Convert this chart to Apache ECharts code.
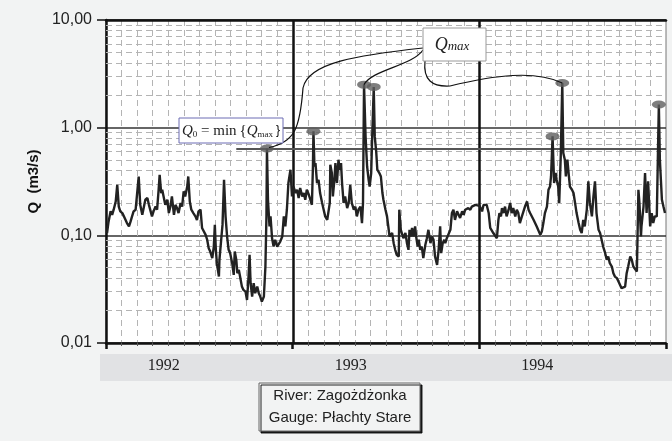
<!DOCTYPE html>
<html><head><meta charset="utf-8">
<script src="https://cdn.jsdelivr.net/npm/echarts@6/dist/echarts.min.js"></script>
<style>html,body{margin:0;padding:0;background:#f2f3f3}#c{width:672px;height:441px}</style>
</head><body><div id="c"></div>
<script>
// ---- data (day index from 1992-01-01, discharge Q in m3/s) ----
const flow1992 = [[2,0.105],[5,0.134],[9,0.167],[12,0.155],[15,0.173],[19,0.206],[22,0.295],[25,0.185],[28,0.167],[32,0.161],[35,0.150],[38,0.145],[41,0.130],[45,0.121],[48,0.134],[51,0.150],[54,0.167],[58,0.173],[61,0.179],[64,0.352],[67,0.192],[71,0.155],[74,0.150],[77,0.214],[81,0.222],[84,0.192],[87,0.200],[90,0.150],[93,0.167],[97,0.185],[100,0.173],[103,0.265],[105,0.365],[108,0.247],[110,0.265],[113,0.256],[116,0.192],[120,0.214],[123,0.161],[126,0.185],[129,0.230],[133,0.155],[136,0.192],[139,0.179],[142,0.161],[146,0.200],[149,0.185],[152,0.256],[155,0.230],[159,0.284],[161,0.352],[164,0.206],[167,0.173],[171,0.161],[175,0.150],[178,0.139],
[181,0.167],[185,0.173],[188,0.117],[191,0.121],[195,0.101],[198,0.091],[201,0.076],[204,0.0707],[208,0.0614],[211,0.0787],[213,0.125],[215,0.0733],[217,0.0551],[221,0.0414],[222,0.0592],[226,0.0975],[228,0.125],[231,0.328],[234,0.150],[237,0.0975],[240,0.0733],[243,0.0683],[247,0.0551],[250,0.0429],[252,0.0707],[255,0.0592],[257,0.0445],[260,0.0478],[263,0.040],[266,0.0334],[269,0.0311],[273,0.030],[276,0.0251],[279,0.0414],[281,0.0659],[283,0.0359],[286,0.027],[289,0.0359],[292,0.029],[296,0.0334],[299,0.029],[302,0.027],[305,0.0242],[309,0.027],[312,0.0513],[314,0.150],[315,0.64],[317,0.214],[320,0.121],[322,0.150],[325,0.094],[328,0.0787],[331,0.091],[335,0.0787],[338,0.076],[341,0.0876],[345,0.0975],[348,0.150],[351,0.121],[354,0.173],[357,0.306],[361,0.407]];
const flow1993 = [[364,0.230],[367,0.284],[371,0.247],[374,0.265],[377,0.222],[380,0.275],[384,0.230],[387,0.247],[390,0.214],[393,0.265],[397,0.238],[400,0.214],[403,0.192],[405,0.436],[406,0.924],[408,0.436],[410,0.469],[413,0.306],[416,0.328],[419,0.247],[423,0.200],[426,0.173],[429,0.150],[433,0.139],[436,0.139],[438,0.200],[439,0.453],[442,0.379],[444,0.230],[447,0.328],[449,0.469],[452,0.306],[455,0.504],[457,0.407],[460,0.469],[462,0.306],[465,0.200],[468,0.230],[472,0.179],[475,0.200],[478,0.295],[481,0.200],[485,0.173],[488,0.185],[491,0.150],[494,0.173],[498,0.185],[501,0.130],[503,0.200],[505,2.51],[508,0.830],[511,0.436],[514,0.328],[516,0.284],[519,0.379],[521,0.830],[524,2.39],[526,0.830],[529,0.582],[531,0.407],[535,0.379],[538,0.352],[541,0.247],[543,0.214],[547,0.173],[550,0.150],[555,0.0975],
[560,0.105],[563,0.0846],[566,0.0733],[569,0.0659],[573,0.0635],[574,0.173],[577,0.1125],[580,0.1085],[582,0.094],[586,0.105],[589,0.0846],[592,0.0733],[594,0.1125],[597,0.0975],[599,0.117],[602,0.0975],[605,0.121],[607,0.0975],[610,0.0787],[612,0.091],[615,0.0733],[618,0.0787],[621,0.0614],[625,0.0816],[628,0.094],[631,0.1125],[635,0.0846],[638,0.0975],[641,0.091],[644,0.0635],[648,0.0532],[651,0.0733],[654,0.121],[656,0.0683],[659,0.0846],[662,0.091],[664,0.0846],[667,0.094],[670,0.0975],[674,0.1125],[677,0.161],[680,0.173],[683,0.139],[687,0.167],[690,0.161],[693,0.145],[697,0.167],[700,0.155],[703,0.173],[706,0.167],[709,0.179],[713,0.173],[716,0.185],[719,0.179],[723,0.192],[726,0.185],[731,0.188]];
const flow1994 = [[736,0.167],[739,0.192],[742,0.185],[745,0.192],[749,0.161],[752,0.117],[758,0.105],[765,0.094],[768,0.139],[770,0.161],[773,0.150],[775,0.179],[778,0.161],[781,0.185],[784,0.150],[788,0.173],[791,0.200],[794,0.161],[797,0.179],[801,0.150],[804,0.173],[807,0.161],[810,0.130],[814,0.150],[817,0.150],[820,0.185],[824,0.206],[827,0.173],[830,0.161],[837,0.139],[843,0.121],[850,0.101],[853,0.1085],[856,0.130],[859,0.161],[863,0.185],[866,0.265],[869,0.284],[871,0.352],[874,0.830],[877,0.306],[880,0.379],[882,0.328],[885,0.284],[887,0.200],[890,0.541],[893,2.60],[895,0.582],[898,0.504],[900,0.352],[903,0.504],[906,0.352],[908,0.284],[912,0.265],[915,0.247],[918,0.200],[921,0.161],[925,0.130],[928,0.1125],[931,0.105],[934,0.139],[937,0.121],[941,0.173],[944,0.317],[947,0.200],[951,0.150],[954,0.230],[957,0.317],[960,0.161],[964,0.1125],[967,0.105],[970,0.091],[973,0.0787],[977,0.0683],[980,0.0592],[983,0.0635],[986,0.0551],[990,0.0513],[993,0.0445],[996,0.0414],[1000,0.040],[1003,0.0372],[1006,0.0359],[1009,0.0323],[1012,0.0311],[1016,0.0334],[1019,0.0445],[1022,0.0513],[1026,0.0635],[1029,0.0592],[1032,0.0513],[1035,0.0495],[1039,0.0461],[1042,0.265],[1044,0.200],[1047,0.0975],[1048,0.121],[1052,0.185],[1055,0.379],[1058,0.161],[1061,0.317],[1065,0.121],[1068,0.161],[1071,0.130],[1074,0.150],[1078,0.150],[1080,0.504],[1082,1.64],[1084,0.504],[1088,0.214],[1091,0.185],[1094,0.161]];
const peakDays = [315, 406, 505, 524, 874, 893, 1082];
const peakValues = [0.64, 0.924, 2.51, 2.39, 0.83, 2.60, 1.64];
const q0Value = 0.64;
const q0StartDay = 255;
const yearLabels = ['1992', '1993', '1994'];
const yearStarts = [0, 366, 731];
const totalDays = 1096;
const yMin = 0.01, yMax = 10;
const yAxisTitle = 'Q  (m3/s)';
const infoLines = ['River: Zagożdżonka', 'Gauge: Płachty Stare'];

// ---- chart ----
const flow = flow1992.concat(flow1993, flow1994);
const peaks = peakDays.map((d, i) => [d, peakValues[i]]);
const minorVals = [];
for (let dec = yMin; dec < yMax - 1e-9; dec *= 10) {
  for (let k = 2; k <= 9; k++) minorVals.push(+(dec * k).toPrecision(3));
}
const SANS = "'Liberation Sans', Arial, sans-serif";
const SERIF = "'Liberation Serif', 'Times New Roman', serif";

const chart = echarts.init(document.getElementById('c'), null, {renderer: 'canvas'});
chart.setOption({
  backgroundColor: '#f2f3f3',
  animation: false,
  grid: {left: 106, right: 6, top: 20, bottom: 98, show: true, backgroundColor: '#ffffff', borderColor: '#777', borderWidth: 1},
  xAxis: [
    {type: 'value', min: 0, max: totalDays, interval: totalDays / 3, position: 'bottom',
     axisLine: {show: true, onZero: false, lineStyle: {color: '#111', width: 2.5}},
     axisTick: {show: true, length: 6, lineStyle: {color: '#111', width: 2.5}},
     minorTick: {show: true, splitNumber: 12, length: 3, lineStyle: {color: '#555', width: 1}},
     minorSplitLine: {show: true, lineStyle: {color: '#b4b4b4', width: 1, type: [6, 4]}},
     splitLine: {show: false}, axisLabel: {show: false}},
    {type: 'value', min: 0, max: totalDays, position: 'bottom',
     axisLine: {show: false}, axisTick: {show: false}, splitLine: {show: false},
     axisLabel: {show: true, customValues: yearStarts.map(s => s + 113), margin: 15,
       formatter: v => yearLabels[yearStarts.filter(s => s <= v).length - 1],
       fontFamily: SERIF, fontSize: 16, color: '#222'}},
    {type: 'value', min: 0, max: totalDays, position: 'top',
     axisLine: {show: true, onZero: false, lineStyle: {color: '#111', width: 2.5}},
     axisTick: {show: false}, axisLabel: {show: false}, splitLine: {show: false}}
  ],
  yAxis: {
    type: 'log', logBase: 10, min: yMin, max: yMax,
    axisLine: {show: true, onZero: false, lineStyle: {color: '#111', width: 2.5}},
    axisTick: {show: true, length: 9, lineStyle: {color: '#111', width: 1.5}},
    axisLabel: {formatter: v => v.toFixed(2).replace('.', ','), fontFamily: SANS, fontSize: 16, color: '#222', margin: 14},
    splitLine: {show: true, lineStyle: {color: '#333', width: 1.5}},
    name: yAxisTitle, nameLocation: 'middle', nameGap: 64,
    nameTextStyle: {fontFamily: SANS, fontSize: 15, fontWeight: 'bold', color: '#111'}
  },
  series: [
    {type: 'line', data: [], silent: true, z: 1,
     markLine: {silent: true, symbol: 'none', label: {show: false}, animation: false,
       lineStyle: {color: '#b4b4b4', width: 1, type: [6, 4]},
       data: minorVals.map(v => ({yAxis: v}))}},
    {type: 'line', data: flow, showSymbol: false, z: 5,
     lineStyle: {color: '#222', width: 2.4}, itemStyle: {color: '#222'},
     markLine: {silent: true, symbol: 'none', label: {show: false}, animation: false,
       data: [
         ...yearStarts.slice(1).map(s => ({xAxis: s, lineStyle: {color: '#111', width: 2.5, type: 'solid'}})),
         [{coord: [q0StartDay, q0Value], lineStyle: {color: '#555', width: 2, type: 'solid'}}, {coord: [totalDays, q0Value]}]
       ]}},
    {type: 'scatter', data: peaks, symbol: 'circle', symbolSize: [14, 8], z: 6,
     itemStyle: {color: '#5e5e5e'}}
  ]
});

// ---- annotations (connectors anchored to the peak points) ----
const px = i => chart.convertToPixel({seriesIndex: 2}, peaks[i]);
const p1 = px(0), p2 = px(2), p6 = px(5);
const curveStyle = {stroke: '#111', lineWidth: 1.2, fill: null};
const bz = (x1, y1, c1x, c1y, c2x, c2y, x2, y2) => ({type: 'bezierCurve', z: 20,
  shape: {x1, y1, cpx1: c1x, cpy1: c1y, cpx2: c2x, cpy2: c2y, x2, y2}, style: curveStyle});

const graphics = [
  {type: 'rect', z: -1, shape: {x: 100, y: 354, width: 572, height: 27}, style: {fill: '#e1e2e4'}},
  // connectors
  bz(423, 48, 360, 55, 308, 62, 303, 88),
  bz(303, 88, 300, 128, 295, 142, p1[0] + 2, p1[1] - 1),
  bz(p2[0], p2[1], p2[0] + 8, p2[1] - 15, 412, 66, 423, 50),
  bz(425, 61, 423, 80, 432, 87, 450, 86),
  bz(450, 86, 495, 75, 535, 70, p6[0], p6[1]),
  // Q0 box
  {type: 'rect', z: 30, shape: {x: 179, y: 118, width: 104, height: 25}, style: {fill: '#fff', stroke: '#6c6cb4', lineWidth: 1}},
  {type: 'text', z: 31, x: 231, y: 131, style: {
    text: '{qi|Q}{sub|0}{t| = min\u2009{}{qi|Q}{sub|max}{t|\u2009}}',
    align: 'center', verticalAlign: 'middle',
    rich: {qi: {fontFamily: SERIF, fontStyle: 'italic', fontSize: 15, fill: '#222'},
           t: {fontFamily: SERIF, fontSize: 15, fill: '#222'},
           sub: {fontFamily: SERIF, fontSize: 9, fill: '#222', padding: [7, 0, 0, 0]}}}},
  // Qmax box
  {type: 'rect', z: 30, shape: {x: 423, y: 28, width: 63, height: 33}, style: {fill: '#fff', stroke: '#9a9a9a', lineWidth: 1}},
  {type: 'text', z: 31, x: 452, y: 45, style: {
    text: '{q|Q}{m|max}', align: 'center', verticalAlign: 'middle',
    rich: {q: {fontFamily: SERIF, fontStyle: 'italic', fontSize: 18, fill: '#222'},
           m: {fontFamily: SERIF, fontStyle: 'italic', fontSize: 13, fill: '#222', padding: [4, 0, 0, 0]}}}},
  // info box
  {type: 'rect', z: 30, shape: {x: 259, y: 383, width: 161, height: 48},
   style: {fill: '#f2f3f3', stroke: '#666', lineWidth: 1, shadowColor: 'rgba(0,0,0,0.85)', shadowOffsetX: 2, shadowOffsetY: 2, shadowBlur: 0}},
  {type: 'text', z: 31, x: 340, y: 396, style: {text: infoLines[0], align: 'center', verticalAlign: 'middle', font: "15px 'Liberation Sans', Arial, sans-serif", fill: '#222'}},
  {type: 'text', z: 31, x: 340, y: 418, style: {text: infoLines[1], align: 'center', verticalAlign: 'middle', font: "15px 'Liberation Sans', Arial, sans-serif", fill: '#222'}}
];
chart.setOption({graphic: graphics});
</script></body></html>
